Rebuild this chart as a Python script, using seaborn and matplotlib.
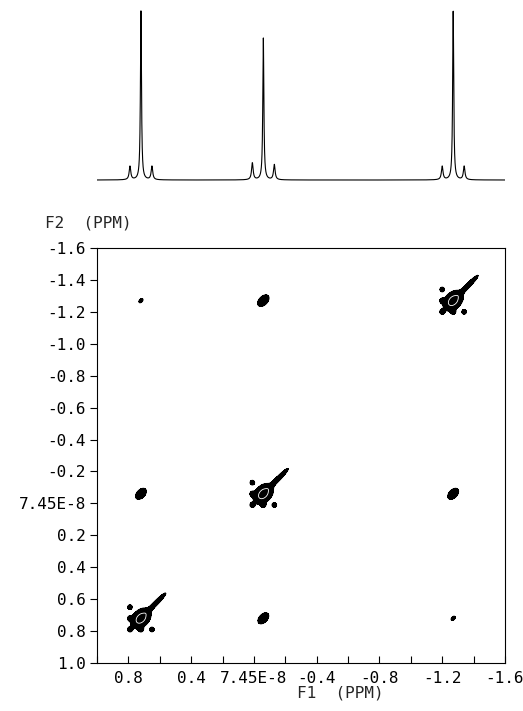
import numpy as np
import pandas as pd
import matplotlib
matplotlib.use("Agg")
import matplotlib.pyplot as plt
import seaborn as sns

# chemical shifts of the three groups (ppm), same on F1 and F2
shifts = [0.72, -0.06, -1.27]

# 1D projection on top: main line heights and the small satellite lines
main_heights = [1.0, 0.84, 1.0]
sat_low = [0.08, 0.10, 0.08]     # satellite on the +ppm side
sat_high = [0.08, 0.09, 0.08]    # satellite on the -ppm side
sat_offset = 0.07
main_width = 0.004
sat_width = 0.006

# 2D peak intensities, rows = F2 shift, cols = F1 shift (same order as shifts)
cross = [[1.00, 0.35, 0.12],
         [0.35, 1.00, 0.35],
         [0.12, 0.40, 1.00]]

# satellite spots seen around each diagonal peak (dF1, dF2 in units of sat_offset)
diag_sats = [(1, 0), (0, 1), (1, 1), (1, -1), (-1, 1)]

x_ticks = [1.0, 0.8, 0.6, 0.4, 0.2, 0.0, -0.2, -0.4, -0.6, -0.8, -1.0, -1.2, -1.4, -1.6]
x_ticklabels = ["", "0.8", "", "0.4", "", "7.45E-8", "", "-0.4", "", "-0.8", "", "-1.2", "", "-1.6"]
y_ticks = [-1.6, -1.4, -1.2, -1.0, -0.8, -0.6, -0.4, -0.2, 0.0, 0.2, 0.4, 0.6, 0.8, 1.0]
y_ticklabels = ["-1.6", "-1.4", "-1.2", "-1.0", "-0.8", "-0.6", "-0.4", "-0.2",
                "7.45E-8", "0.2", "0.4", "0.6", "0.8", "1.0"]


def lorentz(x, x0, h, w):
    return h * w**2 / ((x - x0)**2 + w**2)


def gauss2d(X, Y, x0, y0, amp, s_par, s_perp):
    # gaussian stretched along the diagonal
    u = ((X - x0) + (Y - y0)) / np.sqrt(2)
    v = ((X - x0) - (Y - y0)) / np.sqrt(2)
    return amp * np.exp(-u**2 / (2 * s_par**2) - v**2 / (2 * s_perp**2))


sns.set_theme(style="white")
plt.rcParams["font.family"] = ["DejaVu Sans Mono"]
plt.rcParams["axes.unicode_minus"] = False
fs = 11.5

fig = plt.figure(figsize=(5.23, 7.11), dpi=100)
ax = fig.add_axes([0.1855, 0.0675, 0.780, 0.5837])
ax_spec = fig.add_axes([0.1855, 1 - 183.4 / 711, 0.780, 177.4 / 711])

# ---- 1D spectrum
ppm = np.linspace(1.0, -1.6, 6000)
spec = np.zeros_like(ppm)
for s, h, a, b in zip(shifts, main_heights, sat_low, sat_high):
    spec += lorentz(ppm, s, h, main_width)
    spec += lorentz(ppm, s + sat_offset, a, sat_width)
    spec += lorentz(ppm, s - sat_offset, b, sat_width)
df = pd.DataFrame({"ppm": ppm, "I": spec})
sns.lineplot(data=df, x="ppm", y="I", ax=ax_spec, color="black", lw=0.8,
             estimator=None, sort=False)
ax_spec.set_xlim(1.0, -1.6)
ax_spec.set_ylim(-0.02, 1.03)
ax_spec.axis("off")

# ---- 2D contour map
g = np.linspace(1.0, -1.6, 800)
X, Y = np.meshgrid(g, g)
Z = np.zeros_like(X)
for i, f2 in enumerate(shifts):
    for j, f1 in enumerate(shifts):
        amp = cross[i][j]
        if i == j:
            Z += gauss2d(X, Y, f1, f2, amp, 0.035, 0.024)
            Z += gauss2d(X, Y, f1 - 0.09, f2 - 0.09, 0.3 * amp, 0.065, 0.009)
            for dx, dy in diag_sats:
                Z += gauss2d(X, Y, f1 + dx * sat_offset, f2 + dy * sat_offset,
                             0.2 * amp, 0.012, 0.012)
        else:
            Z += gauss2d(X, Y, f1, f2, amp, 0.026, 0.016)

ax.contourf(X, Y, Z, levels=[0.1, 100], colors="black")
ax.contour(X, Y, Z, levels=[0.1], colors="black", linewidths=0.8)
ax.contour(X, Y, Z, levels=[0.6], colors="white", linewidths=0.6)

ax.set_xlim(1.0, -1.6)
ax.set_ylim(1.0, -1.6)
ax.set_xticks(x_ticks)
ax.set_xticklabels(x_ticklabels)
ax.set_yticks(y_ticks)
ax.set_yticklabels(y_ticklabels)
ax.tick_params(axis="x", direction="in", length=5, width=0.8, pad=6,
               labelsize=fs, colors="black", bottom=True)
ax.tick_params(axis="y", direction="out", length=5, width=0.8, pad=3,
               labelsize=fs, colors="black", left=True)
for sp in ax.spines.values():
    sp.set_color("black")
    sp.set_linewidth(0.8)
ax.set_xlabel("")
ax.set_ylabel("")

fig.text(45 / 523, 1 - 223 / 711, "F2  (PPM)", fontsize=fs, va="center", ha="left")
fig.text(340 / 523, 1 - 693 / 711, "F1  (PPM)", fontsize=fs, va="center", ha="center")

fig.savefig("out.png", dpi=100)
